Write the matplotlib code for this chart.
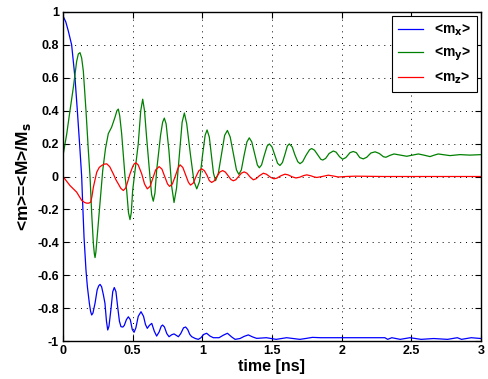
import matplotlib
matplotlib.use("Agg")
import matplotlib.pyplot as plt

plt.rcParams['font.family'] = ['Liberation Sans', 'DejaVu Sans']
plt.rcParams['axes.unicode_minus'] = False

# ---- data ----
t_mx = [0, 0.02, 0.038, 0.062, 0.086, 0.103, 0.122, 0.134, 0.141, 0.151, 0.165,
        0.175, 0.189, 0.198, 0.206, 0.215, 0.230, 0.245, 0.256, 0.266, 0.277,
        0.29, 0.301, 0.312, 0.321, 0.33, 0.345, 0.357, 0.368, 0.38, 0.392,
        0.405, 0.416, 0.43, 0.44, 0.455, 0.469, 0.483, 0.497, 0.51, 0.523,
        0.54, 0.56, 0.578, 0.592, 0.605, 0.62, 0.637, 0.655, 0.672, 0.69,
        0.705, 0.715, 0.728, 0.745, 0.761, 0.78, 0.797, 0.812, 0.828, 0.845,
        0.865, 0.88, 0.895, 0.91, 0.924, 0.95, 0.971, 0.99, 1.01, 1.031,
        1.055, 1.079, 1.12, 1.15, 1.18, 1.21, 1.235, 1.27, 1.30, 1.33,
        1.36, 1.39, 1.46, 1.53, 1.605, 1.70, 1.74, 1.79, 1.85, 2.0, 2.2,
        2.31, 2.33, 2.36, 2.42, 2.49, 2.57, 2.66, 2.76, 2.83, 2.86, 2.93, 3.0]
mx = [0.976, 0.94, 0.885, 0.80, 0.60, 0.40, 0.16, 0.0, -0.16, -0.37, -0.57,
      -0.67, -0.77, -0.82, -0.842, -0.83, -0.77, -0.69, -0.665, -0.656, -0.67,
      -0.72, -0.77, -0.88, -0.933, -0.91, -0.80, -0.70, -0.675, -0.70, -0.79,
      -0.88, -0.913, -0.915, -0.905, -0.87, -0.853, -0.87, -0.93, -0.947, -0.92,
      -0.85, -0.822, -0.85, -0.90, -0.923, -0.905, -0.893, -0.94, -0.97, -0.945,
      -0.91, -0.903, -0.915, -0.955, -0.974, -0.962, -0.957, -0.965, -0.974, -0.955,
      -0.92, -0.915, -0.93, -0.96, -0.974, -0.985, -0.99, -0.98, -0.96, -0.953,
      -0.97, -0.98, -0.98, -0.965, -0.953, -0.975, -0.99, -0.985, -0.972, -0.963,
      -0.975, -0.984, -0.98, -0.99, -0.98, -0.99, -0.985, -0.978, -0.98, -0.98, -0.98,
      -0.98, -0.99, -0.98, -0.99, -0.98, -0.99, -0.985, -0.99, -0.98, -0.99, -0.98, -0.985]

t_my = [0, 0.027, 0.05, 0.074, 0.098, 0.110, 0.122, 0.134, 0.146, 0.165, 0.182,
        0.194, 0.206, 0.218, 0.225, 0.23, 0.236, 0.246, 0.266, 0.285, 0.305,
        0.325, 0.349, 0.373, 0.387, 0.397, 0.407, 0.421, 0.445, 0.457, 0.470,
        0.481, 0.490, 0.50, 0.517, 0.54, 0.558, 0.572, 0.585, 0.60, 0.624,
        0.636, 0.648, 0.660, 0.672, 0.70, 0.715, 0.727, 0.740, 0.76, 0.78,
        0.797, 0.815, 0.835, 0.855, 0.871, 0.888, 0.915, 0.94, 0.96, 0.98,
        1.0, 1.02, 1.034, 1.05, 1.065, 1.08, 1.095, 1.115, 1.14, 1.16,
        1.18, 1.20, 1.22, 1.245, 1.262, 1.28, 1.30, 1.32, 1.337, 1.355,
        1.375, 1.395, 1.409, 1.425, 1.445, 1.465, 1.481, 1.50, 1.52, 1.54,
        1.557, 1.575, 1.595, 1.61, 1.624, 1.645, 1.665, 1.685, 1.701, 1.72,
        1.745, 1.77, 1.785, 1.805, 1.83, 1.85, 1.864, 1.885, 1.91, 1.94,
        1.96, 1.985, 2.007, 2.03, 2.06, 2.083, 2.105, 2.13, 2.155, 2.18,
        2.21, 2.24, 2.27, 2.30, 2.318, 2.345, 2.376, 2.42, 2.467, 2.51,
        2.55, 2.59, 2.634, 2.665, 2.693, 2.735, 2.777, 2.815, 2.849, 2.92, 3.0]
my = [0.127, 0.26, 0.40, 0.54, 0.70, 0.745, 0.753, 0.72, 0.64, 0.40, 0.157,
      0.0, -0.226, -0.408, -0.47, -0.493, -0.46, -0.36, -0.166, 0.036, 0.17,
      0.26, 0.30, 0.36, 0.40, 0.41, 0.37, 0.26, 0.0, -0.085, -0.22,
      -0.262, -0.22, -0.085, 0.036, 0.198, 0.40, 0.47, 0.40, 0.238, 0.0,
      -0.11, -0.15, -0.10, 0.036, 0.25, 0.33, 0.355, 0.32, 0.16, -0.06,
      -0.158, -0.07, 0.13, 0.33, 0.386, 0.32, 0.13, -0.03, -0.075, -0.03,
      0.12, 0.25, 0.283, 0.24, 0.13, 0.02, -0.025, 0.02, 0.15, 0.25,
      0.28, 0.24, 0.15, 0.04, 0.013, 0.04, 0.13, 0.21, 0.235, 0.21,
      0.14, 0.07, 0.053, 0.07, 0.13, 0.185, 0.198, 0.18, 0.13, 0.08,
      0.067, 0.085, 0.14, 0.185, 0.198, 0.18, 0.13, 0.09, 0.078, 0.09,
      0.13, 0.163, 0.17, 0.16, 0.13, 0.105, 0.10, 0.11, 0.14, 0.155,
      0.148, 0.12, 0.105, 0.115, 0.145, 0.152, 0.145, 0.115, 0.107, 0.117,
      0.143, 0.15, 0.14, 0.12, 0.117, 0.128, 0.137, 0.13, 0.123, 0.13,
      0.137, 0.13, 0.121, 0.13, 0.137, 0.132, 0.127, 0.13, 0.133, 0.13, 0.133]

t_mz = [0, 0.05, 0.098, 0.134, 0.155, 0.17, 0.185, 0.199, 0.208, 0.218, 0.242,
        0.26, 0.278, 0.295, 0.314, 0.335, 0.361, 0.38, 0.397, 0.415, 0.433,
        0.45, 0.465, 0.481, 0.50, 0.512, 0.524, 0.54, 0.565, 0.585, 0.605,
        0.625, 0.645, 0.665, 0.69, 0.71, 0.73, 0.75, 0.765, 0.785, 0.805,
        0.825, 0.84, 0.86, 0.88, 0.90, 0.915, 0.935, 0.955, 0.975, 0.995,
        1.015, 1.035, 1.05, 1.067, 1.085, 1.105, 1.125, 1.146, 1.165, 1.185,
        1.205, 1.222, 1.24, 1.26, 1.28, 1.30, 1.32, 1.345, 1.366, 1.385,
        1.41, 1.438, 1.46, 1.49, 1.514, 1.535, 1.565, 1.593, 1.615, 1.645,
        1.672, 1.70, 1.725, 1.749, 1.78, 1.80, 1.821, 1.86, 1.904, 1.94,
        1.976, 2.03, 2.1, 2.3, 3.0]
mz = [0.0, -0.055, -0.095, -0.145, -0.158, -0.162, -0.162, -0.156, -0.12, -0.065, 0.026,
      0.055, 0.067, 0.075, 0.077, 0.06, 0.016, -0.02, -0.045, -0.072, -0.085,
      -0.07, -0.03, 0.016, 0.06, 0.078, 0.083, 0.07, 0.016, -0.045, -0.075,
      -0.06, -0.01, 0.04, 0.06, 0.045, 0.0, -0.045, -0.06, -0.045, 0.0,
      0.05, 0.071, 0.055, 0.01, -0.035, -0.052, -0.04, 0.0, 0.035, 0.047,
      0.035, 0.005, -0.025, -0.036, -0.027, 0.0, 0.027, 0.036, 0.027, 0.005,
      -0.018, -0.026, -0.02, 0.0, 0.02, 0.028, 0.02, -0.005, -0.02, -0.014,
      0.005, 0.02, 0.014, -0.005, -0.014, -0.01, 0.005, 0.014, 0.01, -0.002,
      -0.009, -0.004, 0.005, 0.01, 0.004, -0.002, -0.006, 0.0, 0.008, 0.003,
      -0.003, 0.0, 0.002, 0.0, 0.0]

x_ticks = [0, 0.5, 1, 1.5, 2, 2.5, 3]
x_tick_labels = ['0', '0.5', '1', '1.5', '2', '2.5', '3']
y_ticks = [-1, -0.8, -0.6, -0.4, -0.2, 0, 0.2, 0.4, 0.6, 0.8, 1]
y_tick_labels = ['-1', '-0.8', '-0.6', '-0.4', '-0.2', '0', '0.2', '0.4', '0.6', '0.8', '1']

fig = plt.figure(figsize=(4.88, 3.79), dpi=100)
ax = fig.add_axes([63/488, 1-341/379, 418/488, 329/379])

ax.plot(t_mx, mx, color=(0, 0, 1), lw=0.9, label=r'<m$_\mathbf{x}$>')
ax.plot(t_my, my, color=(0, 0.5, 0), lw=0.9, label=r'<m$_\mathbf{y}$>')
ax.plot(t_mz, mz, color=(1, 0, 0), lw=0.9, label=r'<m$_\mathbf{z}$>')

ax.set_xlim(0, 3)
ax.set_ylim(-1, 1)
ax.set_xticks(x_ticks)
ax.set_xticklabels(x_tick_labels)
ax.set_yticks(y_ticks)
ax.set_yticklabels(y_tick_labels)
ax.tick_params(direction='in', top=True, right=True, length=4, width=0.8,
               labelsize=9, pad=3)
for lab in ax.get_xticklabels() + ax.get_yticklabels():
    lab.set_fontweight('bold')
for s in ax.spines.values():
    s.set_linewidth(1.0)
ax.grid(True, color='black', linestyle=(0, (1, 5)), linewidth=0.7)

ax.set_xlabel('time [ns]', fontsize=11.5, fontweight='bold', labelpad=1)
ax.set_ylabel(r'<m>=<M>/M$_\mathbf{s}$', fontsize=12.5, fontweight='bold', labelpad=3)

leg = ax.legend(loc='upper right', prop={'weight': 'bold', 'size': 10},
                frameon=True, fancybox=False, edgecolor='black', framealpha=1,
                borderaxespad=0.3, handlelength=1.8, labelspacing=0.55,
                borderpad=0.45, handletextpad=0.75)
leg.get_frame().set_linewidth(0.8)

fig.savefig('out.png', dpi=100)
